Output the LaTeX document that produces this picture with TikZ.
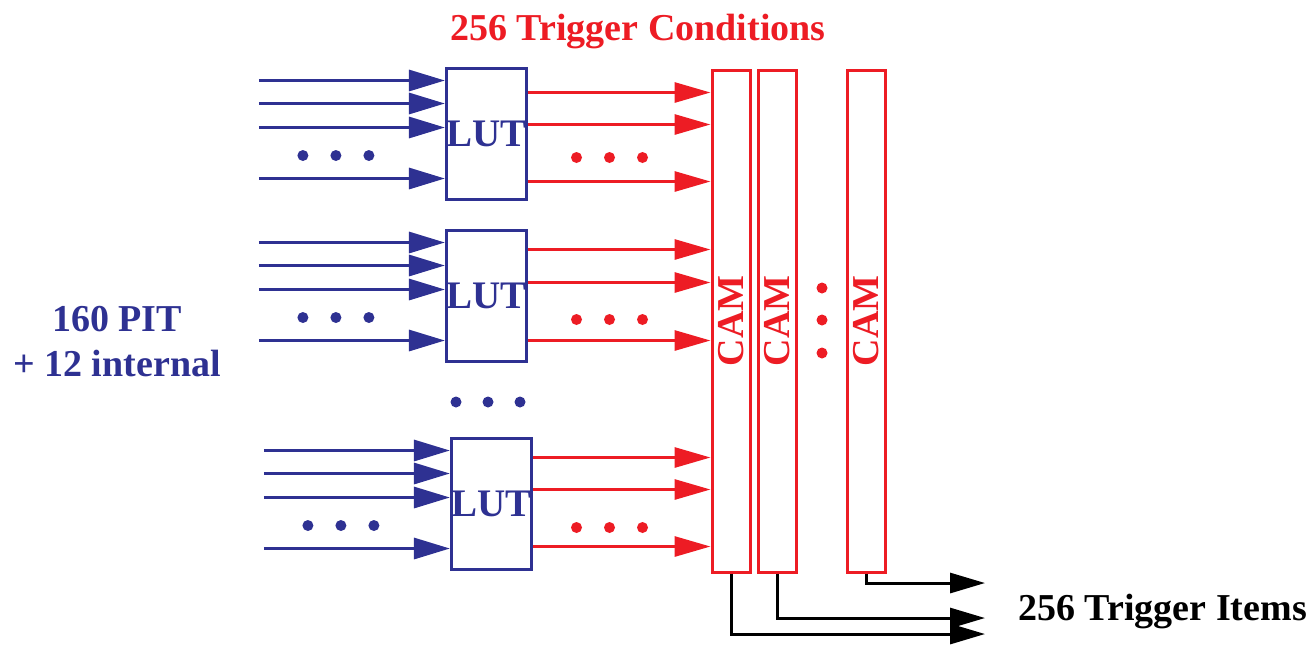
\documentclass[tikz,border=0pt]{standalone}
\usepackage{fontspec}
\setmainfont{Liberation Serif}
\usepackage{tikz}
\usetikzlibrary{arrows.meta,calc,positioning}
\definecolor{LutBlue}{HTML}{2E3192}
\definecolor{CamRed}{HTML}{ED1C24}
\definecolor{Ink}{HTML}{000000}

\begin{document}
\begin{tikzpicture}[x=0.5pt,y=-0.5pt,
    lut/.style={draw=LutBlue,line width=1.5pt,text=LutBlue,minimum width=38.5pt,
                minimum height=65.5pt,inner sep=0pt,font=\fontsize{19.5}{22}\selectfont\bfseries},
    cam/.style={draw=CamRed,line width=1.5pt,text=CamRed,minimum width=19pt,
                minimum height=251pt,inner sep=0pt,font=\fontsize{19}{22}\selectfont\bfseries},
    inarrow/.style={-{Triangle[length=18pt,width=10.5pt]},line width=1.6pt,color=LutBlue},
    condarrow/.style={-{Triangle[length=18pt,width=10pt]},line width=1.5pt,color=CamRed},
    itemarrow/.style={-{Triangle[length=17.5pt,width=10pt]},line width=1.5pt,color=Ink},
    label/.style={font=\fontsize{19}{22.5}\selectfont\bfseries,inner sep=0pt}]
  \useasboundingbox (0,0) rectangle (1315,644);
  % lookup tables
  \node[lut] (lut1) at (486.5,133.5) {LUT};
  \node[lut,below=14pt of lut1] (lut2) {LUT};
  \node[lut,below=37pt of lut2,xshift=2.5pt] (lut3) {LUT};
  % CAM columns
  \node[cam] (cam1) at (731,321) {\rotatebox{90}{CAM}};
  \node[cam,right=2.5pt of cam1] (cam2) {\rotatebox{90}{CAM}};
  \node[cam,right=24pt of cam2] (cam3) {\rotatebox{90}{CAM}};
  % inputs and outputs of each LUT
  \foreach \b in {lut1,lut2,lut3}{
    \foreach \dy in {14,37,61,112}
      \draw[inarrow] ($(\b.north west)+(-186,\dy)$) -- ($(\b.north west)+(0,\dy)$);
    \foreach \dx in {-142,-109,-76}
      \fill[LutBlue] ($(\b.north west)+(\dx,89)$) circle[radius=2.75pt];
    \foreach \dx in {-134,-101,-68}
      \fill[CamRed] ($(cam1.west |- \b.north)+(\dx,91)$) circle[radius=2.75pt];
  }
  \foreach \b/\ya/\yb/\yc in {lut1/26/58/115,lut2/21/54/112,lut3/21/53/110}
    \foreach \dy in {\ya,\yb,\yc}
      \draw[condarrow] ($(\b.north east)+(0,\dy)$) -- ($(cam1.west |- \b.north)+(0,\dy)$);
  % more LUTs, more CAMs
  \foreach \x in {456,488,520}
    \fill[LutBlue] (\x,402) circle[radius=2.75pt];
  \foreach \y in {288,320,353}
    \fill[CamRed] (822,\y) circle[radius=2.75pt];
  % trigger items
  \coordinate (o1) at (985,634);
  \coordinate (o2) at (985,618);
  \coordinate (o3) at (985,583);
  \draw[itemarrow] (cam1.south) |- (o1);
  \draw[itemarrow] (cam2.south) |- (o2);
  \draw[itemarrow] (cam3.south) |- (o3);
  % labels
  \node[label,text=CamRed,anchor=base] (cond) at (638,40) {256 Trigger Conditions};
  \node[label,text=Ink,anchor=base west] (items) at (1018,620) {256 Trigger Items};
  \node[label,text=LutBlue,align=center] (pit) at (117,342) {160 PIT\\+ 12 internal};
\end{tikzpicture}
\end{document}
